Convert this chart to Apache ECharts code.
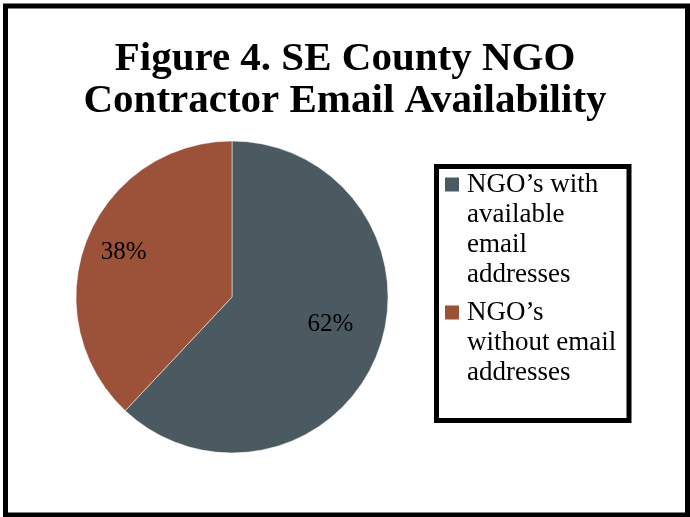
<!DOCTYPE html>
<html>
<head>
<meta charset="utf-8">
<script src="https://cdn.jsdelivr.net/npm/echarts@6/dist/echarts.min.js"></script>
<style>
  html, body { margin: 0; padding: 0; background: #fff; }
  #main { width: 690px; height: 517px; }
</style>
</head>
<body>
<div id="main"></div>
<script>
var titleText = 'Figure 4. SE County NGO\nContractor Email Availability';
var categories = ['NGO’s with\navailable\nemail\naddresses', 'NGO’s\nwithout email\naddresses'];
var values = [62, 38];
var colors = ['#4b5a61', '#9b5239'];

var serif = 'Liberation Serif';

// labels sit a bit further out than echarts' default inside spot
var labelOffsets = [[23, -2], [-33, -15]];

var chart = echarts.init(document.getElementById('main'));

var seriesData = [];
for (var i = 0; i < values.length; i++) {
  seriesData.push({
    name: categories[i],
    value: values[i],
    label: { offset: labelOffsets[i] }
  });
}

// legend box drawn by hand: square next to first line of each entry
var legendGraphics = [{
  type: 'rect',
  z: 100,
  shape: { x: 436.5, y: 166.5, width: 192.5, height: 254 },
  style: { fill: '#fff', stroke: '#000', lineWidth: 5 }
}];
var entryTop = 169.5;
categories.forEach(function (name, idx) {
  legendGraphics.push({
    type: 'rect',
    z: 101,
    shape: { x: 445, y: entryTop + 8, width: 14, height: 14 },
    style: { fill: colors[idx] }
  });
  legendGraphics.push({
    type: 'text',
    z: 101,
    x: 467,
    y: entryTop,
    style: {
      text: name,
      font: '27px "Liberation Serif", serif',
      fontFamily: serif,
      fontSize: 27,
      lineHeight: 30,
      fill: '#000'
    }
  });
  entryTop += name.split('\n').length * 30 + 8;
});

var option = {
  backgroundColor: '#fff',
  animation: false,
  color: colors,
  title: {
    text: titleText,
    left: 'center',
    top: 33,
    textStyle: {
      fontFamily: serif,
      fontSize: 41,
      fontWeight: 'bold',
      lineHeight: 42,
      color: '#000'
    }
  },
  series: [{
    type: 'pie',
    center: [232, 297],
    radius: 156,
    startAngle: 90,
    clockwise: true,
    silent: true,
    itemStyle: { borderColor: '#fff', borderWidth: 0.5 },
    label: {
      show: true,
      position: 'inside',
      formatter: '{d}%',
      fontFamily: serif,
      fontSize: 25,
      color: '#000'
    },
    labelLine: { show: false },
    data: seriesData
  }],
  graphic: [{
    type: 'rect',
    z: 100,
    shape: { x: 5.5, y: 6, width: 682, height: 509 },
    style: { fill: null, stroke: '#000', lineWidth: 5 }
  }].concat(legendGraphics)
};

chart.setOption(option);
</script>
</body>
</html>
